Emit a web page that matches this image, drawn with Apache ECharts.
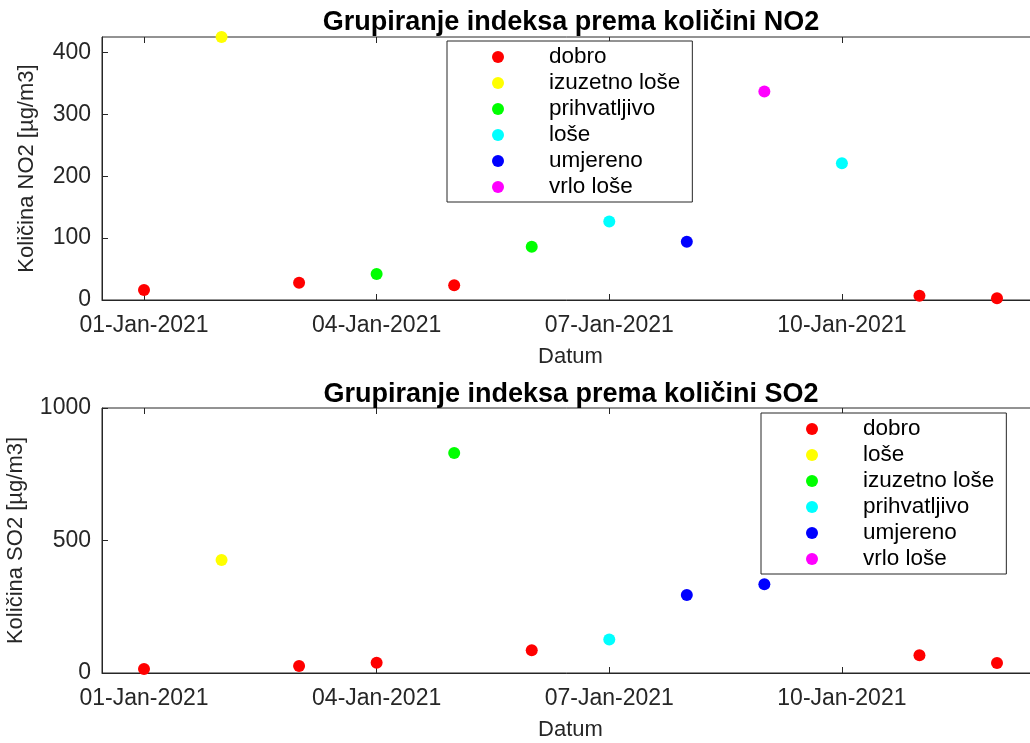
<!DOCTYPE html>
<html>
<head>
<meta charset="utf-8">
<title>Grupiranje indeksa</title>
<script src="https://cdn.jsdelivr.net/npm/echarts@6.0.0/dist/echarts.min.js"></script>
<style>
    html, body { margin: 0; padding: 0; background: #fff; }
    #echarts { width: 1030px; height: 743px; }
</style>
</head>
<body>
<div id="echarts"></div>
<script>
// dani mjerenja
var dates = ['2021-01-01', '2021-01-02', '2021-01-03', '2021-01-04', '2021-01-05', '2021-01-06',
             '2021-01-07', '2021-01-08', '2021-01-09', '2021-01-10', '2021-01-11', '2021-01-12'];
var tickDates = ['2021-01-01', '2021-01-04', '2021-01-07', '2021-01-10'];

// NO2
var no2Values = [16, 425, 28, 42, 24, 86, 127, 94, 337, 221, 7, 3];
var no2Groups = ['dobro', 'izuzetno loše', 'dobro', 'prihvatljivo', 'dobro', 'prihvatljivo',
                 'loše', 'umjereno', 'vrlo loše', 'loše', 'dobro', 'dobro'];
var no2Order = ['dobro', 'izuzetno loše', 'prihvatljivo', 'loše', 'umjereno', 'vrlo loše'];
var no2Ticks = [0, 100, 200, 300, 400];

// SO2 (10.1. je skriven iza legende)
var so2Values = [15, 426, 26, 39, 830, 86, 126, 294, 335, 620, 67, 38];
var so2Groups = ['dobro', 'loše', 'dobro', 'dobro', 'izuzetno loše', 'dobro',
                 'prihvatljivo', 'umjereno', 'umjereno', 'vrlo loše', 'dobro', 'dobro'];
var so2Order = ['dobro', 'loše', 'izuzetno loše', 'prihvatljivo', 'umjereno', 'vrlo loše'];
var so2Ticks = [0, 500, 1000];

// boje grupa redom pojavljivanja
var groupColors = ['#ff0000', '#ffff00', '#00ff00', '#00ffff', '#0000ff', '#ff00ff'];

var months = ['Jan', 'Feb', 'Mar', 'Apr', 'May', 'Jun', 'Jul', 'Aug', 'Sep', 'Oct', 'Nov', 'Dec'];
var font = '"Liberation Sans", Arial, Helvetica, sans-serif';
var axisColor = '#262626';

function day(s) {
    var p = s.split('-');
    return Date.UTC(+p[0], +p[1] - 1, +p[2]);
}
function fmtDate(v) {
    var d = new Date(v);
    return ('0' + d.getUTCDate()).slice(-2) + '-' + months[d.getUTCMonth()] + '-' + d.getUTCFullYear();
}

var xMin = Date.UTC(2020, 11, 31, 11);
var xMax = Date.UTC(2021, 0, 12, 13);
var xTicks = tickDates.map(day);

function buildSeries(values, groups, order, prefix, idx) {
    return order.map(function (g, i) {
        var pts = [];
        for (var k = 0; k < dates.length; k++) {
            if (groups[k] === g && values[k] != null) pts.push([day(dates[k]), values[k]]);
        }
        return {
            name: prefix + g,
            type: 'scatter',
            xAxisIndex: idx * 2,
            yAxisIndex: idx,
            data: pts,
            symbolSize: 12,
            itemStyle: { color: groupColors[i], opacity: 1 },
            emphasis: { disabled: true }
        };
    });
}

function bottomAxis(grid) {
    return {
        type: 'value', gridIndex: grid, min: xMin, max: xMax,
        name: 'Datum', nameLocation: 'middle', nameGap: 46,
        nameTextStyle: { fontFamily: font, fontSize: 22, color: axisColor },
        axisLine: { show: true, lineStyle: { color: axisColor, width: 1 } },
        axisTick: { show: true, inside: true, length: 6, customValues: xTicks, lineStyle: { color: axisColor } },
        axisLabel: { show: true, customValues: xTicks, formatter: fmtDate, margin: 14,
                     fontFamily: font, fontSize: 23, color: axisColor },
        splitLine: { show: false }
    };
}
function topAxis(grid) {
    return {
        type: 'value', gridIndex: grid, position: 'top', min: xMin, max: xMax,
        axisLine: { show: false },
        axisTick: { show: true, inside: true, length: 6, customValues: xTicks, lineStyle: { color: axisColor } },
        axisLabel: { show: false },
        splitLine: { show: false }
    };
}
function leftAxis(grid, max, ticks, name, gap) {
    return {
        type: 'value', gridIndex: grid, min: 0, max: max,
        name: name, nameLocation: 'middle', nameGap: gap,
        nameTextStyle: { fontFamily: font, fontSize: 22, color: axisColor },
        axisLine: { show: true, lineStyle: { color: axisColor, width: 1 } },
        axisTick: { show: true, inside: true, length: 6, customValues: ticks, lineStyle: { color: axisColor } },
        axisLabel: { show: true, customValues: ticks, margin: 11,
                     formatter: function (v) { return String(v); },
                     fontFamily: font, fontSize: 23, color: axisColor },
        splitLine: { show: false }
    };
}
function legendFor(order, prefix, left, top) {
    return {
        orient: 'vertical', left: left, top: top,
        data: order.map(function (g) { return prefix + g; }),
        formatter: function (n) { return n.split('|').pop(); },
        icon: 'circle', itemWidth: 92, itemHeight: 12, itemGap: 0,
        padding: [3, 12, 2, 45],
        backgroundColor: '#fff', borderColor: axisColor, borderWidth: 1,
        selectedMode: false,
        textStyle: { fontFamily: font, fontSize: 22.5, color: '#000', lineHeight: 26 }
    };
}

var myChart = echarts.init(document.getElementById('echarts'));
var option = {
    animation: false,
    backgroundColor: '#fff',
    title: [
        { text: 'Grupiranje indeksa prema količini NO2', left: 571, top: 9, textAlign: 'center', padding: 0,
          textStyle: { fontFamily: font, fontSize: 27, fontWeight: 'bold', color: '#000' } },
        { text: 'Grupiranje indeksa prema količini SO2', left: 571, top: 381, textAlign: 'center', padding: 0,
          textStyle: { fontFamily: font, fontSize: 27, fontWeight: 'bold', color: '#000' } }
    ],
    grid: [
        { left: 102, top: 37, width: 937, height: 263, outerBoundsMode: 'none', containLabel: false,
          show: true, borderColor: axisColor, borderWidth: 1, backgroundColor: '#fff' },
        { left: 102, top: 408, width: 937, height: 265, outerBoundsMode: 'none', containLabel: false,
          show: true, borderColor: axisColor, borderWidth: 1, backgroundColor: '#fff' }
    ],
    xAxis: [bottomAxis(0), topAxis(0), bottomAxis(1), topAxis(1)],
    yAxis: [
        leftAxis(0, 425, no2Ticks, 'Količina NO2 [µg/m3]', 64),
        leftAxis(1, 1000, so2Ticks, 'Količina SO2 [µg/m3]', 75)
    ],
    legend: [
        legendFor(no2Order, 'NO2|', 447, 41),
        legendFor(so2Order, 'SO2|', 761, 413)
    ],
    series: buildSeries(no2Values, no2Groups, no2Order, 'NO2|', 0)
        .concat(buildSeries(so2Values, so2Groups, so2Order, 'SO2|', 1))
};
myChart.setOption(option);
</script>
</body>
</html>
